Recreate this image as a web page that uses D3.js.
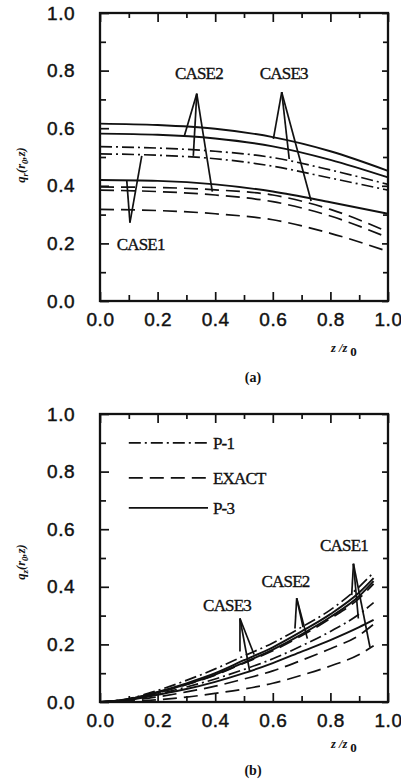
<!DOCTYPE html>
<html>
<head>
<meta charset="utf-8">
<script src="https://cdn.jsdelivr.net/npm/d3@7"></script>
<style>
  html, body { margin: 0; padding: 0; background: #fff; }
  svg { display: block; }
  .tick text { font-family: 'Liberation Sans', Arial, sans-serif; font-size: 19px; fill: #111; stroke: #111; stroke-width: 0.45px; letter-spacing: 0.5px; }
  .tick line { stroke: #111; stroke-width: 1.7; }
  .case-label, .legend-label { font-family: 'Liberation Serif', 'Times New Roman', serif; font-size: 17px; fill: #111; stroke: #111; stroke-width: 0.35px; letter-spacing: -0.8px; }
  .axis-title { font-family: 'Liberation Serif', 'Times New Roman', serif; font-style: italic; font-weight: bold; font-size: 12.5px; fill: #111; }
  .caption { font-family: 'Liberation Serif', 'Times New Roman', serif; font-weight: bold; font-size: 14px; fill: #111; }
</style>
</head>
<body>
<svg id="chart" width="401" height="784"></svg>
<script>
'use strict';

// panel (a): q_r(r0, z) against z/z0
const zTop = [0, 0.2, 0.4, 0.6, 0.8, 1.0];
const topP3Case3 = [0.616, 0.611, 0.598, 0.569, 0.520, 0.452];
const topP3Case2 = [0.581, 0.577, 0.564, 0.537, 0.490, 0.429];
const topP1Case3 = [0.536, 0.531, 0.520, 0.498, 0.455, 0.405];
const topP1Case2 = [0.511, 0.506, 0.494, 0.468, 0.427, 0.385];
const topP3Case1 = [0.420, 0.417, 0.405, 0.380, 0.343, 0.303];
const topExactA = [0.396, 0.394, 0.386, 0.368, 0.318, 0.240];
const topExactB = [0.385, 0.380, 0.368, 0.345, 0.295, 0.220];
const topExactC = [0.318, 0.314, 0.303, 0.282, 0.235, 0.172];

// panel (b): q_z(r0, z) against z/z0
const zBottom = [0, 0.1, 0.2, 0.3, 0.4, 0.5, 0.6, 0.7, 0.8, 0.9, 0.95];
const botP1Case1 = [0, 0.012, 0.040, 0.075, 0.115, 0.160, 0.205, 0.260, 0.320, 0.400, 0.450];
const botP3Case1 = [0, 0.010, 0.035, 0.065, 0.100, 0.145, 0.190, 0.245, 0.305, 0.380, 0.430];
const botExact1 = [0, 0.009, 0.032, 0.060, 0.093, 0.135, 0.178, 0.230, 0.290, 0.360, 0.410];
const botP3Case2 = [0, 0.010, 0.033, 0.061, 0.095, 0.137, 0.182, 0.235, 0.295, 0.368, 0.420];
const botP1Case2 = [0, 0.008, 0.028, 0.052, 0.080, 0.113, 0.150, 0.195, 0.245, 0.305, 0.345];
const botP3Case3 = [0, 0.007, 0.025, 0.045, 0.070, 0.100, 0.135, 0.175, 0.215, 0.260, 0.285];
const botExact2 = [0, 0.005, 0.018, 0.035, 0.055, 0.080, 0.108, 0.145, 0.185, 0.232, 0.270];
const botExact3 = [0, 0.002, 0.008, 0.017, 0.030, 0.045, 0.065, 0.093, 0.125, 0.165, 0.195];

const tickValues = [0, 0.2, 0.4, 0.6, 0.8, 1.0];
const minorTickValues = [0.1, 0.3, 0.5, 0.7, 0.9];

const legendNames = ['P-1', 'EXACT', 'P-3'];
const legendStyles = ['dashdot', 'dashed', 'solid'];
const legendLevels = [0.9, 0.778, 0.674];

// case labels: [text, z/z0 start, value]
const topCaseLabels = [['CASE2', 0.26, 0.79], ['CASE3', 0.555, 0.79], ['CASE1', 0.058, 0.199]];
const botCaseLabels = [['CASE3', 0.358, 0.336], ['CASE2', 0.561, 0.42], ['CASE1', 0.764, 0.545]];

// leader lines: apex then leg ends, in data units
const topPointers = [
  [[0.104, 0.272], [0.093, 0.417], [0.145, 0.504]],
  [[0.336, 0.72], [0.293, 0.574], [0.324, 0.504], [0.39, 0.38]],
  [[0.631, 0.725], [0.602, 0.563], [0.657, 0.493], [0.733, 0.347]]
];
const botPointers = [
  [[0.486, 0.29], [0.486, 0.175], [0.535, 0.165], [0.52, 0.105]],
  [[0.683, 0.36], [0.677, 0.255], [0.705, 0.26], [0.72, 0.22]],
  [[0.88, 0.48], [0.874, 0.371], [0.897, 0.29], [0.9375, 0.19]]
];

(function () {
  const LEFT = 100;
  const RIGHT = 388;
  const DASHES = { solid: null, dashed: '14,7', dashdot: '12,4,2,4' };

  const svg = d3.select('#chart');

  const panels = [
    {
      top: 13, bottom: 301, xs: zTop, sub: 'r', caption: '(a)', captionY: 382, titleY: 352, yTitleY: 165,
      series: [
        [topP3Case3, 'solid'], [topP3Case2, 'solid'], [topP1Case3, 'dashdot'], [topP1Case2, 'dashdot'],
        [topP3Case1, 'solid'], [topExactA, 'dashed'], [topExactB, 'dashed'], [topExactC, 'dashed']
      ],
      labels: topCaseLabels, pointers: topPointers, legend: false
    },
    {
      top: 414, bottom: 702, xs: zBottom, sub: 'z', caption: '(b)', captionY: 775, titleY: 748, yTitleY: 562,
      series: [
        [botP1Case1, 'dashdot'], [botP3Case1, 'solid'], [botExact1, 'dashed'], [botP3Case2, 'solid'],
        [botP1Case2, 'dashdot'], [botP3Case3, 'solid'], [botExact2, 'dashed'], [botExact3, 'dashed']
      ],
      labels: botCaseLabels, pointers: botPointers, legend: true
    }
  ];

  function addAxis(g, axis, transform, values, size, labels) {
    const a = g.append('g')
      .attr('transform', transform)
      .call(axis.tickValues(values).tickSize(-size).tickFormat(labels ? d3.format('.1f') : () => ''));
    a.select('.domain').remove();
    return a;
  }

  function drawPanel(p) {
    const x = d3.scaleLinear().domain([0, 1]).range([LEFT, RIGHT]);
    const y = d3.scaleLinear().domain([0, 1]).range([p.bottom, p.top]);
    const g = svg.append('g');

    // ticks on all four sides, pointing in
    addAxis(g, d3.axisLeft(y).tickPadding(25), `translate(${LEFT},0)`, tickValues, 9, true);
    addAxis(g, d3.axisLeft(y), `translate(${LEFT},0)`, minorTickValues, 6, false);
    addAxis(g, d3.axisRight(y), `translate(${RIGHT},0)`, tickValues, 6, false);
    addAxis(g, d3.axisRight(y), `translate(${RIGHT},0)`, minorTickValues, 5, false);
    addAxis(g, d3.axisBottom(x).tickPadding(12), `translate(0,${p.bottom})`, tickValues, 9, true);
    addAxis(g, d3.axisBottom(x), `translate(0,${p.bottom})`, minorTickValues, 6, false);
    addAxis(g, d3.axisTop(x), `translate(0,${p.top})`, tickValues, 9, false);
    addAxis(g, d3.axisTop(x), `translate(0,${p.top})`, minorTickValues, 5, false);

    g.append('rect')
      .attr('x', LEFT).attr('y', p.top)
      .attr('width', RIGHT - LEFT).attr('height', p.bottom - p.top)
      .attr('fill', 'none').attr('stroke', '#111').attr('stroke-width', 2.3);

    const line = d3.line()
      .x((d) => x(d[0]))
      .y((d) => y(d[1]))
      .curve(d3.curveMonotoneX);

    g.append('g')
      .selectAll('path')
      .data(p.series)
      .join('path')
      .attr('d', (s) => line(p.xs.map((z, i) => [z, s[0][i]])))
      .attr('fill', 'none')
      .attr('stroke', '#111')
      .attr('stroke-width', (s) => (s[1] === 'solid' ? 1.9 : 1.7))
      .attr('stroke-dasharray', (s) => DASHES[s[1]]);

    // leader lines from the case labels
    const legs = [];
    p.pointers.forEach((ptr) => {
      ptr.slice(1).forEach((end) => legs.push([ptr[0], end]));
    });
    g.append('g')
      .selectAll('line')
      .data(legs)
      .join('line')
      .attr('x1', (d) => x(d[0][0])).attr('y1', (d) => y(d[0][1]))
      .attr('x2', (d) => x(d[1][0])).attr('y2', (d) => y(d[1][1]))
      .attr('stroke', '#111').attr('stroke-width', 1.7);

    g.append('g')
      .selectAll('text')
      .data(p.labels)
      .join('text')
      .attr('class', 'case-label')
      .attr('x', (d) => x(d[1]))
      .attr('y', (d) => y(d[2]))
      .attr('dy', '0.35em')
      .text((d) => d[0]);

    if (p.legend) {
      const lg = g.append('g');
      legendNames.forEach((name, i) => {
        lg.append('line')
          .attr('x1', x(0.1)).attr('x2', x(0.375))
          .attr('y1', y(legendLevels[i])).attr('y2', y(legendLevels[i]))
          .attr('stroke', '#111').attr('stroke-width', 1.7)
          .attr('stroke-dasharray', DASHES[legendStyles[i]]);
        lg.append('text')
          .attr('class', 'legend-label')
          .attr('x', x(0.392))
          .attr('y', y(legendLevels[i]))
          .attr('dy', '0.35em')
          .text(name);
      });
    }

    // y title: q_r(r0,z) or q_z(r0,z)
    const yt = g.append('text')
      .attr('class', 'axis-title')
      .attr('text-anchor', 'middle')
      .attr('transform', `translate(25,${p.yTitleY}) rotate(-90)`);
    yt.append('tspan').text('q');
    yt.append('tspan').attr('dy', 3).attr('font-size', 9).text(p.sub);
    yt.append('tspan').attr('dy', -3).text('(r');
    yt.append('tspan').attr('dy', 3).attr('font-size', 9).text('0');
    yt.append('tspan').attr('dy', -3).text(',z)');

    const xt = g.append('text')
      .attr('class', 'axis-title')
      .attr('x', 331)
      .attr('y', p.titleY);
    xt.append('tspan').text('z /z');
    xt.append('tspan').attr('dx', 3).attr('dy', 4).attr('font-style', 'normal').attr('font-size', 13).text('0');

    g.append('text')
      .attr('class', 'caption')
      .attr('x', 253)
      .attr('y', p.captionY)
      .attr('text-anchor', 'middle')
      .text(p.caption);
  }

  panels.forEach(drawPanel);
})();
</script>
</body>
</html>
